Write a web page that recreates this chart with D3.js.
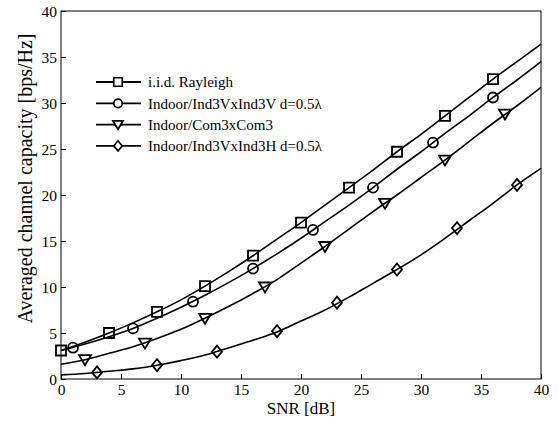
<!DOCTYPE html>
<html>
<head>
<meta charset="utf-8">
<script src="https://cdn.jsdelivr.net/npm/d3@7"></script>
<style>
  html, body { margin: 0; padding: 0; background: #fff; }
  svg text { font-family: "Liberation Serif", "DejaVu Serif", serif; fill: #000; }
</style>
</head>
<body>
<div id="chart"></div>
<script>
// SNR grid for the curves [dB]
const snr = [0, 2, 4, 6, 8, 10, 12, 14, 16, 18, 20, 22, 24, 26, 28, 30, 32, 34, 36, 38, 40];

// Averaged capacity [bps/Hz] for each channel model
const rayleigh = [3.1, 4.0, 5.0, 6.1, 7.3, 8.6, 10.1, 11.7, 13.4, 15.2, 17.0, 18.9, 20.8, 22.7, 24.7, 26.6, 28.6, 30.6, 32.6, 34.5, 36.4];
const ind3v    = [3.1, 3.8, 4.6, 5.5, 6.6, 7.8, 9.1, 10.5, 12.0, 13.6, 15.3, 17.1, 18.9, 20.8, 22.8, 24.7, 26.7, 28.6, 30.6, 32.5, 34.5];
const com3     = [1.6, 2.1, 2.8, 3.5, 4.4, 5.4, 6.6, 7.9, 9.3, 10.8, 12.6, 14.4, 16.3, 18.2, 20.0, 21.9, 23.8, 25.8, 27.8, 29.7, 31.7];
const ind3h    = [0.45, 0.6, 0.85, 1.1, 1.5, 2.0, 2.6, 3.4, 4.2, 5.1, 6.3, 7.5, 8.9, 10.4, 11.9, 13.5, 15.3, 17.2, 19.1, 21.1, 22.9];

// marker positions (sparse)
const rayleighMarkX = [0, 4, 8, 12, 16, 20, 24, 28, 32, 36];
const rayleighMarkY = [3.1, 5.0, 7.3, 10.1, 13.4, 17.0, 20.8, 24.7, 28.6, 32.6];
const ind3vMarkX = [1, 6, 11, 16, 21, 26, 31, 36];
const ind3vMarkY = [3.4, 5.5, 8.4, 12.0, 16.2, 20.8, 25.7, 30.6];
const com3MarkX = [2, 7, 12, 17, 22, 27, 32, 37];
const com3MarkY = [2.1, 3.9, 6.6, 10.0, 14.4, 19.1, 23.8, 28.8];
const ind3hMarkX = [3, 8, 13, 18, 23, 28, 33, 38];
const ind3hMarkY = [0.72, 1.5, 2.97, 5.2, 8.3, 11.9, 16.4, 21.1];

const xTicks = [0, 5, 10, 15, 20, 25, 30, 35, 40];
const yTicks = [0, 5, 10, 15, 20, 25, 30, 35, 40];

const seriesNames = [
  'i.i.d. Rayleigh',
  'Indoor/Ind3VxInd3V d=0.5\u03bb',
  'Indoor/Com3xCom3',
  'Indoor/Ind3VxInd3H d=0.5\u03bb'
];

const width = 559, height = 428;
const margin = { top: 11, right: 18, bottom: 49, left: 61 };
const w = width - margin.left - margin.right;
const h = height - margin.top - margin.bottom;

const svg = d3.select('#chart').append('svg')
  .attr('width', width)
  .attr('height', height);

const g = svg.append('g')
  .attr('transform', `translate(${margin.left}, ${margin.top})`);

const x = d3.scaleLinear().domain([0, 40]).range([0, w]);
const y = d3.scaleLinear().domain([0, 40]).range([h, 0]);

// box
g.append('rect')
  .attr('x', 0).attr('y', 0)
  .attr('width', w).attr('height', h)
  .style('fill', 'none')
  .style('stroke', '#000')
  .style('stroke-width', 1);

// axes with inward ticks
const xAxis = g.append('g')
  .attr('transform', `translate(0, ${h})`)
  .call(d3.axisBottom(x).tickValues(xTicks).tickSizeInner(-5).tickSizeOuter(0).tickPadding(5));
const yAxis = g.append('g')
  .call(d3.axisLeft(y).tickValues(yTicks).tickSizeInner(-5).tickSizeOuter(0).tickPadding(4));

[xAxis, yAxis].forEach(ax => {
  ax.select('.domain').remove();
  ax.selectAll('.tick line').style('stroke', '#000');
  ax.selectAll('text')
    .style('font-family', '"Liberation Serif", serif')
    .style('font-size', '15.5px')
    .style('fill', '#000');
});
yAxis.selectAll('text').attr('dy', '0.35em');

// axis titles
svg.append('text')
  .attr('x', margin.left + w / 2)
  .attr('y', 414)
  .attr('text-anchor', 'middle')
  .style('font-size', '17px')
  .text('SNR [dB]');

svg.append('text')
  .attr('transform', 'translate(32, 178.5) rotate(-90)')
  .attr('text-anchor', 'middle')
  .style('font-size', '20px')
  .text('Averaged channel capacity [bps/Hz]');

// marker shapes, drawn around (0,0)
const markerPath = {
  square: 'M-5,-5H5V5H-5Z',
  circle: 'M5,0A5,5 0 1,1 -5,0A5,5 0 1,1 5,0Z',
  triangle: 'M-6,-4.5H6L0,5.5Z',
  diamond: 'M0,-6L5,0L0,6L-5,0Z'
};

const series = [
  { vals: rayleigh, mx: rayleighMarkX, my: rayleighMarkY, type: 'square' },
  { vals: ind3v, mx: ind3vMarkX, my: ind3vMarkY, type: 'circle' },
  { vals: com3, mx: com3MarkX, my: com3MarkY, type: 'triangle' },
  { vals: ind3h, mx: ind3hMarkX, my: ind3hMarkY, type: 'diamond' }
];

const line = d3.line()
  .x(d => x(d[0]))
  .y(d => y(d[1]))
  .curve(d3.curveMonotoneX);

series.forEach(s => {
  g.append('path')
    .datum(snr.map((v, i) => [v, s.vals[i]]))
    .attr('d', line)
    .style('fill', 'none')
    .style('stroke', '#000')
    .style('stroke-width', 1.6);

  g.selectAll(null)
    .data(s.mx.map((v, i) => [v, s.my[i]]))
    .enter()
    .append('path')
    .attr('d', markerPath[s.type])
    .attr('transform', d => `translate(${x(d[0])}, ${y(d[1])})`)
    .style('fill', 'none')
    .style('stroke', '#000')
    .style('stroke-width', 1.8);
});

// legend
const legend = svg.append('g')
  .attr('transform', 'translate(96, 82)');

const legendItems = legend.selectAll('.legend-item')
  .data(series)
  .enter()
  .append('g')
  .attr('class', 'legend-item')
  .attr('transform', (d, i) => `translate(0, ${i * 21.3})`);

legendItems.append('line')
  .attr('x1', 0).attr('x2', 45)
  .attr('y1', 0).attr('y2', 0)
  .style('stroke', '#000')
  .style('stroke-width', 1.8);

legendItems.append('path')
  .attr('d', d => markerPath[d.type])
  .attr('transform', 'translate(22, 0) scale(0.85)')
  .style('fill', '#fff')
  .style('stroke', '#000')
  .style('stroke-width', 2);

legendItems.append('text')
  .attr('x', 52)
  .attr('y', 0)
  .attr('dy', '0.35em')
  .style('font-size', '15px')
  .text((d, i) => seriesNames[i]);
</script>
</body>
</html>
